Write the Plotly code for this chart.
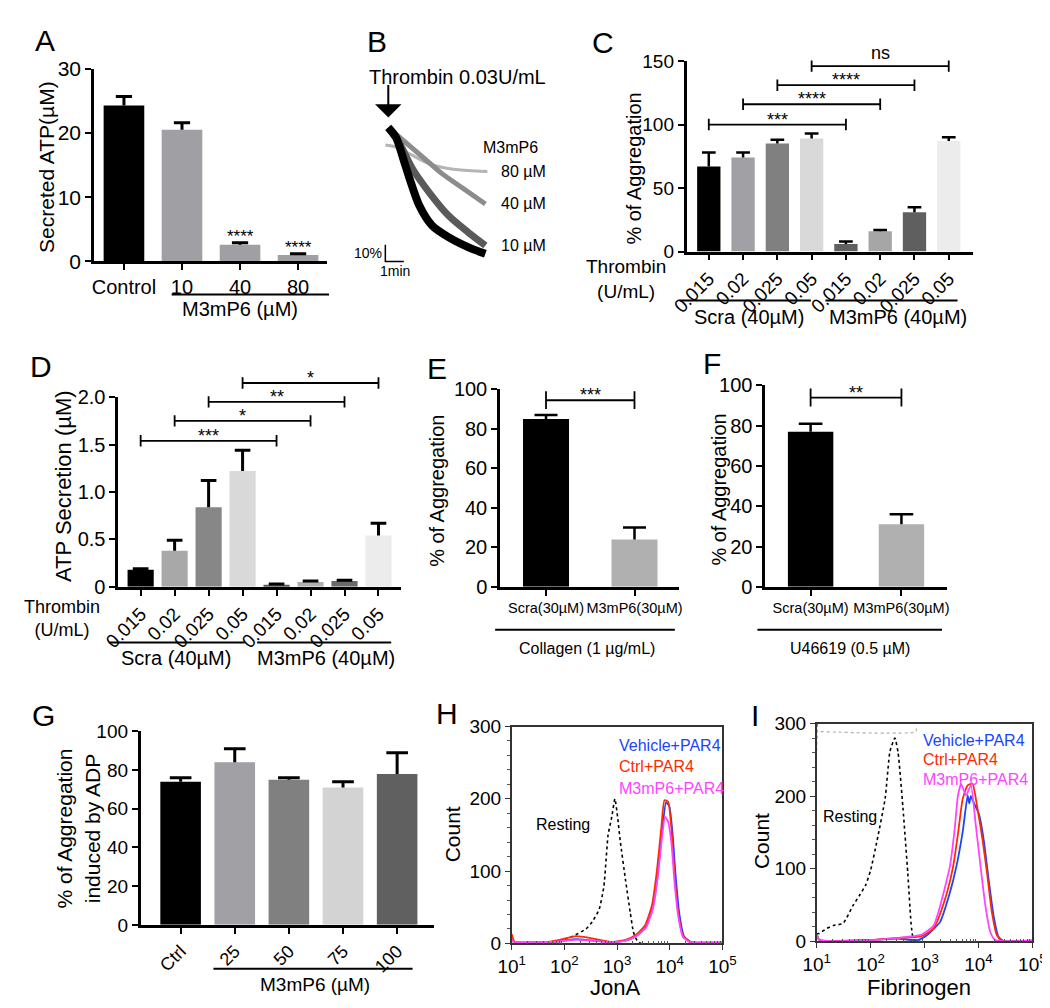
import plotly.graph_objects as go

W, H = 1050, 1008
FONT = "Liberation Sans, Arial, sans-serif"


def fx(px):
    return px / W


def fy(py):
    return 1 - py / H


# ---------------- DATA ----------------
# Panel A
A_labels = ["Control", "10", "40", "80"]
A_vals = [24.3, 20.5, 2.6, 1.0]
A_err = [1.4, 1.1, 0.3, 0.2]
A_sig = ["", "", "****", "****"]
A_colors = ["#000000", "#a0a0a4", "#a0a0a4", "#a0a0a4"]

# Panel B (aggregation traces: time in min, aggregation in %)
B_t_ctrl = [0.0, 0.42, 0.79, 1.16, 1.68, 2.37, 3.26, 4.32, 5.26]
B_ag_ctrl = [0, 6, 18, 31, 47, 59, 66, 72, 76]
B_t_10 = [0.0, 0.63, 1.32, 2.21, 3.26, 4.32, 5.26]
B_ag_10 = [0, 10, 25, 39, 53, 63, 71]
B_t_40 = [0.0, 0.79, 1.84, 2.89, 4.1, 5.26]
B_ag_40 = [0, 7.6, 17.6, 27.6, 37, 46]
B_t_80 = [-0.16, 0.42, 1.16, 2.21, 3.26, 4.32, 5.37]
B_ag_80 = [10.6, 11.8, 15.9, 21.8, 24.7, 25.9, 26.5]
B_labels = ["80 \u00b5M", "40 \u00b5M", "10 \u00b5M"]

# Panel C
C_ticks = ["0.015", "0.02", "0.025", "0.05", "0.015", "0.02", "0.025", "0.05"]
C_vals = [67, 74, 85, 89, 6, 16, 31, 87]
C_err = [11, 4, 3, 4, 2, 1, 4, 3]
C_colors = ["#000000", "#a0a0a5", "#808080", "#d9d9d9",
            "#606060", "#a6a6a6", "#5f5f5f", "#ececec"]
C_br = [(0, 4, 100, "***"), (1, 5, 116, "****"), (2, 6, 131, "****"), (3, 7, 146, "ns")]

# Panel D
D_ticks = ["0.015", "0.02", "0.025", "0.05", "0.015", "0.02", "0.025", "0.05"]
D_vals = [0.18, 0.38, 0.84, 1.22, 0.02, 0.05, 0.06, 0.54]
D_err = [0.01, 0.11, 0.28, 0.22, 0.01, 0.01, 0.01, 0.13]
D_colors = ["#000000", "#a8a8a8", "#878787", "#d9d9d9",
            "#5a5a5a", "#b0b0b0", "#6a6a6a", "#ececec"]
D_br = [(0, 4, 1.54, "***"), (1, 5, 1.75, "*"), (2, 6, 1.95, "**"), (3, 7, 2.15, "*")]

# Panel E
E_ticks = ["Scra(30\u00b5M)", "M3mP6(30\u00b5M)"]
E_vals = [85, 24]
E_err = [2, 6]
E_colors = ["#000000", "#b0b0b0"]
E_br = [(0, 1, 94.5, "***")]

# Panel F
F_ticks = ["Scra(30\u00b5M)", "M3mP6(30\u00b5M)"]
F_vals = [77, 31]
F_err = [4, 5]
F_colors = ["#000000", "#b0b0b0"]
F_br = [(0, 1, 94, "**")]

# Panel G
G_ticks = ["Ctrl", "25", "50", "75", "100"]
G_vals = [74, 84, 75, 71, 78]
G_err = [2, 7, 1, 3, 11]
G_colors = ["#000000", "#a0a0a5", "#808080", "#d3d3d3", "#606060"]

# Panel H (flow histograms, x as log10 intensity)
H_rest_lx = [1.0, 1.85, 1.95, 2.16, 2.41, 2.53, 2.66, 2.75, 2.83, 2.9, 2.96, 3.01, 3.06, 3.16, 3.25, 3.31, 3.38, 3.45, 5.0]
H_rest_ct = [0, 0, 4, 10, 20, 30, 47, 79, 150, 175, 200, 175, 142, 88, 43, 16, 4, 0, 0]
H_red_lx = [1.0, 1.06, 1.66, 1.91, 2.22, 2.53, 2.91, 3.16, 3.34, 3.53, 3.66, 3.75, 3.84, 3.9, 3.97, 4.03, 4.09, 4.16, 4.25, 4.38, 4.72, 5.0]
H_red_ct = [13, 2, 2, 5, 10, 7, 2, 5, 11, 25, 52, 97, 160, 198, 196, 160, 97, 43, 11, 2, 1, 1]
H_blue_lx = [1.0, 1.06, 1.66, 1.91, 2.22, 2.53, 2.91, 3.16, 3.36, 3.55, 3.68, 3.77, 3.86, 3.93, 3.99, 4.05, 4.11, 4.18, 4.27, 4.4, 4.72, 5.0]
H_blue_ct = [5, 2, 2, 3, 6, 4, 2, 4, 10, 23, 50, 95, 158, 195, 190, 155, 95, 42, 10, 2, 1, 1]
H_mag_lx = [1.0, 1.06, 1.66, 1.91, 2.22, 2.53, 2.91, 3.16, 3.36, 3.55, 3.68, 3.77, 3.85, 3.91, 3.97, 4.03, 4.09, 4.16, 4.25, 4.38, 4.72, 5.0]
H_mag_ct = [4, 2, 2, 3, 5, 4, 2, 4, 10, 22, 48, 90, 145, 175, 168, 140, 85, 38, 9, 2, 1, 1]

# Panel I
I_rest_lx = [1.0, 1.0, 1.04, 1.19, 1.31, 1.49, 1.67, 1.79, 1.91, 2.0, 2.12, 2.27, 2.36, 2.45, 2.51, 2.6, 2.69, 2.76, 2.81, 5.0]
I_rest_ct = [300, 11, 11, 18, 22, 25, 49, 63, 78, 98, 139, 197, 262, 280, 260, 184, 94, 18, 2, 0]
I_gate_lx = [1.07, 2.84, 2.84]
I_gate_ct = [289, 289, 298]
I_blue_lx = [1.0, 1.05, 2.0, 2.5, 2.87, 3.05, 3.29, 3.47, 3.59, 3.71, 3.8, 3.83, 3.86, 3.92, 4.01, 4.1, 4.19, 4.28, 4.37, 4.46, 5.0]
I_blue_ct = [10, 2, 2, 4, 2, 9, 27, 67, 103, 152, 201, 190, 200, 190, 175, 139, 85, 36, 7, 1, 1]
I_red_lx = [1.0, 1.05, 2.0, 2.5, 2.93, 3.17, 3.38, 3.53, 3.62, 3.71, 3.8, 3.89, 3.98, 4.07, 4.16, 4.25, 4.34, 4.43, 5.0]
I_red_ct = [10, 2, 2, 5, 7, 18, 58, 103, 148, 197, 215, 217, 184, 143, 94, 40, 9, 1, 1]
I_mag_lx = [1.0, 1.05, 2.0, 2.5, 2.93, 3.17, 3.29, 3.47, 3.56, 3.62, 3.68, 3.77, 3.86, 3.95, 4.04, 4.13, 4.22, 4.31, 5.0]
I_mag_ct = [10, 2, 2, 5, 9, 22, 49, 103, 155, 201, 217, 201, 215, 161, 103, 49, 13, 2, 1]

RED = "#ff2a00"
BLUE = "#1a44ff"
MAG = "#ff44ff"

# ---------------- FIGURE ----------------
fig = go.Figure()
annotations = []
shapes = []
layout = {}
PANEL_Y = {}  # k -> (top_px, bottom_px, range)


def ax_names(k):
    s = "" if k == 1 else str(k)
    return "x" + s, "y" + s, "xaxis" + s, "yaxis" + s


def add_bars(k, vals, errs, colors, width, capw, lw=2.5):
    xr, yr, _, _ = ax_names(k)
    xs = list(range(len(vals)))
    fig.add_trace(go.Bar(x=xs, y=vals, width=width, marker=dict(color=colors, line=dict(width=0)),
                         xaxis=xr, yaxis=yr, hoverinfo="skip"))
    ex, ey = [], []
    for i, (v, e) in enumerate(zip(vals, errs)):
        ex += [i, i, None, i - capw, i + capw, None]
        ey += [v, v + e, None, v + e, v + e, None]
    fig.add_trace(go.Scatter(x=ex, y=ey, mode="lines", line=dict(color="black", width=lw),
                             xaxis=xr, yaxis=yr, hoverinfo="skip"))


def add_brackets(k, ov, brs, cap, size=18):
    """Brackets drawn on an invisible overlay y-axis sharing the panel's scale but extending higher."""
    xr, yr, _, _ = ax_names(k)
    top, bot, rng = PANEL_Y[k]
    ext_top = max(top - 45, 1)
    ov_rng = [rng[0], rng[0] + (rng[1] - rng[0]) * (bot - ext_top) / (bot - top)]
    oyr = "y%d" % ov
    layout["yaxis%d" % ov] = dict(domain=[fy(bot), fy(ext_top)], range=ov_rng, anchor=xr,
                                  visible=False, fixedrange=True)
    bx, by = [], []
    for (i, j, h, lab) in brs:
        bx += [i, j, None, i, i, None, j, j, None]
        by += [h, h, None, h - cap, h + cap, None, h - cap, h + cap, None]
        annotations.append(dict(x=(i + j) / 2, y=h, xref=xr, yref=oyr, text=lab, showarrow=False,
                                yanchor="bottom", yshift=(-7 if "*" in lab else 1),
                                font=dict(family=FONT, size=size, color="black")))
    fig.add_trace(go.Scatter(x=bx, y=by, mode="lines", line=dict(color="black", width=1.8),
                             xaxis=xr, yaxis=oyr, hoverinfo="skip"))


def bar_axes(k, xpx, ypx, xrng, yrng, ticktext, yticks, yticktext=None, angle=0, xfs=20, yfs=20):
    xr, yr, xk, yk = ax_names(k)
    PANEL_Y[k] = (ypx[0], ypx[1], yrng)
    common = dict(showline=True, linecolor="black", linewidth=2.5, ticks="outside", tickwidth=2,
                  tickcolor="black", showgrid=False, zeroline=False, fixedrange=True)
    layout[xk] = dict(domain=[fx(xpx[0]), fx(xpx[1])], range=xrng, anchor=yr,
                      tickvals=list(range(len(ticktext))), ticktext=ticktext, tickangle=angle,
                      ticklen=6, tickfont=dict(family=FONT, size=xfs, color="black"), **common)
    layout[yk] = dict(domain=[fy(ypx[1]), fy(ypx[0])], range=yrng, anchor=xr,
                      tickvals=yticks, ticktext=yticktext if yticktext else [str(t) for t in yticks],
                      ticklen=6, tickfont=dict(family=FONT, size=yfs, color="black"), **common)


def text(px, py, s, size=20, color="black", angle=0, xanchor="center", yanchor="middle"):
    annotations.append(dict(x=fx(px), y=fy(py), xref="paper", yref="paper", text=s, showarrow=False,
                            textangle=angle, xanchor=xanchor, yanchor=yanchor,
                            font=dict(family=FONT, size=size, color=color)))


def hline(x0, x1, y, w=2):
    shapes.append(dict(type="line", xref="paper", yref="paper", x0=fx(x0), x1=fx(x1), y0=fy(y), y1=fy(y),
                       line=dict(color="black", width=w)))


# ---- Panel A ----
bar_axes(1, (72, 312), (50, 247), [-0.517, 3.5], [0, 30], A_labels, [0, 10, 20, 30], xfs=20, yfs=21)
add_bars(1, A_vals, A_err, A_colors, 0.7, 0.14, lw=3)
for i, (v, e, s) in enumerate(zip(A_vals, A_err, A_sig)):
    if s:
        annotations.append(dict(x=i, y=v + e, xref="x", yref="y", text=s, showarrow=False, yanchor="bottom",
                                yshift=-5, font=dict(family=FONT, size=17, color="black")))
text(23, 150, "Secreted ATP(\u00b5M)", size=21, angle=-90)
hline(152, 314, 281)
text(222, 296, "M3mP6 (\u00b5M)", size=20)

# ---- Panel B ----
for t, a, c, w in [(B_t_80, B_ag_80, "#b4b4b4", 3), (B_t_40, B_ag_40, "#8c8c8c", 5),
                   (B_t_10, B_ag_10, "#5a5a5a", 7), (B_t_ctrl, B_ag_ctrl, "#000000", 8)]:
    fig.add_trace(go.Scatter(x=t, y=a, mode="lines", line=dict(color=c, width=w, shape="spline", smoothing=0.8),
                             xaxis="x2", yaxis="y2", hoverinfo="skip"))
SCALE_MIN, SCALE_PCT = 1, 10
sb_t0, sb_a0 = -0.16, 80.6
fig.add_trace(go.Scatter(x=[sb_t0, sb_t0, sb_t0 + SCALE_MIN], y=[sb_a0 - SCALE_PCT, sb_a0, sb_a0],
                         mode="lines", line=dict(color="black", width=1.5), xaxis="x2", yaxis="y2", hoverinfo="skip"))
layout["xaxis2"] = dict(domain=[fx(340), fx(540)], range=[-1.842, 8.684], visible=False, anchor="y2", fixedrange=True)
layout["yaxis2"] = dict(domain=[fy(260), fy(60)], range=[88.2, -29.4], visible=False, anchor="x2", fixedrange=True)
annotations.append(dict(x=0, y=-6, xref="x2", yref="y2", ax=0, ay=-34, showarrow=True, arrowhead=1,
                        arrowsize=2.2, arrowwidth=2, arrowcolor="black", text=""))
text(353, 58, "Thrombin 0.03U/mL", size=20, xanchor="left")
annotations.append(dict(x=sb_t0, y=sb_a0 - SCALE_PCT / 2, xref="x2", yref="y2", text="10%", showarrow=False,
                        xanchor="right", xshift=-1, font=dict(family=FONT, size=14, color="black")))
annotations.append(dict(x=sb_t0 + SCALE_MIN / 2, y=sb_a0, xref="x2", yref="y2", text="1min", showarrow=False,
                        yanchor="top", font=dict(family=FONT, size=14, color="black")))
text(470, 130, "M3mP6", size=16, xanchor="left")
for lab, a in zip(B_labels, [B_ag_80[-1], B_ag_40[-1], B_ag_10[-1]]):
    annotations.append(dict(x=6.0, y=a, xref="x2", yref="y2", text=lab, showarrow=False, xanchor="left",
                            font=dict(family=FONT, size=16, color="black")))

# ---- Panel C ----
bar_axes(3, (682, 977), (42, 237), [-0.65, 7.71], [0, 150], C_ticks, [0, 50, 100, 150], angle=-45, xfs=19, yfs=19)
add_bars(3, C_vals, C_err, C_colors, 0.68, 0.2)
add_brackets(3, 10, C_br, 4.5)
text(627, 152, "% of Aggregation", size=20, angle=-90)
text(620, 265, "Thrombin<br>(U/mL)", size=19)
hline(675, 810, 287)
hline(825, 961, 287)
text(746, 304, "Scra (40\u00b5M)", size=20)
text(900, 304, "M3mP6 (40\u00b5M)", size=20)

# ---- Panel D ----
bar_axes(4, (97, 388), (386, 580), [-0.66, 7.66], [0, 2.0], D_ticks, [0, 0.5, 1.0, 1.5, 2.0],
         yticktext=["0", "0.5", "1.0", "1.5", "2.0"], angle=-45, xfs=19, yfs=20)
add_bars(4, D_vals, D_err, D_colors, 0.77, 0.23, lw=3)
add_brackets(4, 11, D_br, 0.06)
text(40, 477, "ATP Secretion (\u00b5M)", size=22, angle=-90)
text(39, 612, "Thrombin<br>(U/mL)", size=18)
hline(88, 227, 637)
hline(240, 378, 637)
text(156, 653, "Scra (40\u00b5M)", size=20)
text(311, 653, "M3mP6 (40\u00b5M)", size=20)

# ---- Panel E ----
bar_axes(5, (490, 674), (378, 580), [-0.52, 1.5], [0, 100], E_ticks, [0, 20, 40, 60, 80, 100], xfs=14.5, yfs=20)
add_bars(5, E_vals, E_err, E_colors, 0.52, 0.13)
add_brackets(5, 12, E_br, 4.5)
text(425, 482, "% of Aggregation", size=20, angle=-90)
hline(485, 670, 624)
text(580, 643, "Collagen (1 \u00b5g/mL)", size=16)

# ---- Panel F ----
bar_axes(6, (763, 950), (374, 580), [-0.5, 1.5], [0, 100], F_ticks, [0, 20, 40, 60, 80, 100], xfs=14.5, yfs=20)
add_bars(6, F_vals, F_err, F_colors, 0.5, 0.13)
add_brackets(6, 13, F_br, 4.5)
text(715, 481, "% of Aggregation", size=20, angle=-90)
hline(755, 945, 624)
text(850, 643, "U46619 (0.5 \u00b5M)", size=16)

# ---- Panel G ----
bar_axes(7, (120, 422), (728, 926), [-0.74, 4.68], [0, 100], G_ticks, [0, 20, 40, 60, 80, 100],
         angle=-45, xfs=18, yfs=19)
add_bars(7, G_vals, G_err, G_colors, 0.75, 0.2, lw=3)
text(56, 827, "% of Aggregation<br>induced by ADP", size=21, angle=-90)
hline(195, 400, 971)
text(300, 987, "M3mP6 (\u00b5M)", size=19)


# ---- Panels H & I ----
def flow_axes(k, xpx, ypx):
    xr, yr, xk, yk = ax_names(k)
    minor_vals = [m * 10 ** d for d in range(1, 5) for m in range(2, 10)]
    layout[xk] = dict(domain=[fx(xpx[0]), fx(xpx[1])], type="log", range=[1, 5], anchor=yr,
                      tickvals=[10, 100, 1000, 10000, 100000],
                      ticktext=["10<sup>1</sup>", "10<sup>2</sup>", "10<sup>3</sup>", "10<sup>4</sup>", "10<sup>5</sup>"],
                      showline=True, linecolor="#333333", linewidth=1.5, mirror=True,
                      ticks="outside", ticklen=5, tickwidth=1.2, tickcolor="#333333",
                      minor=dict(tickvals=minor_vals, ticks="inside", ticklen=3, tickcolor="#555555"),
                      showgrid=False, zeroline=False, fixedrange=True,
                      tickfont=dict(family=FONT, size=19, color="black"))
    layout[yk] = dict(domain=[fy(ypx[1]), fy(ypx[0])], range=[0, 300], anchor=xr,
                      tickvals=[0, 100, 200, 300], showline=True, linecolor="#333333", linewidth=1.5,
                      mirror=True, ticks="outside", ticklen=5, tickwidth=1.2, tickcolor="#333333",
                      minor=dict(dtick=20, ticks="outside", ticklen=3, tickcolor="#555555"),
                      showgrid=False, zeroline=False, fixedrange=True,
                      tickfont=dict(family=FONT, size=19, color="black"))


def flow_line(k, lx, ct, color, width=1.6, dash="solid"):
    xr, yr, _, _ = ax_names(k)
    fig.add_trace(go.Scatter(x=[10 ** v for v in lx], y=ct, mode="lines",
                             line=dict(color=color, width=width, dash=dash, shape="spline", smoothing=0.5),
                             xaxis=xr, yaxis=yr, hoverinfo="skip"))


flow_axes(8, (502, 719), (723, 945))
flow_line(8, H_rest_lx, H_rest_ct, "black", 1.6, "dot")
flow_line(8, H_blue_lx, H_blue_ct, BLUE, 1.8)
flow_line(8, H_red_lx, H_red_ct, RED, 1.8)
flow_line(8, H_mag_lx, H_mag_ct, MAG, 1.8)
text(442, 833, "Count", size=21, angle=-90)
text(608, 990, "JonA", size=22)
text(555, 823, "Resting", size=16)
text(610, 742, "Vehicle+PAR4", size=16, color=BLUE, xanchor="left")
text(610, 764, "Ctrl+PAR4", size=16, color=RED, xanchor="left")
text(610, 786, "M3mP6+PAR4", size=16, color=MAG, xanchor="left")

flow_axes(9, (816, 1038), (720, 943))
flow_line(9, I_gate_lx, I_gate_ct, "#b0b0b0", 1.2, "dot")
flow_line(9, I_rest_lx, I_rest_ct, "black", 1.6, "dot")
flow_line(9, I_blue_lx, I_blue_ct, BLUE, 1.8)
flow_line(9, I_red_lx, I_red_ct, RED, 1.8)
flow_line(9, I_mag_lx, I_mag_ct, MAG, 1.8)
text(760, 840, "Count", size=21, angle=-90)
text(921, 990, "Fibrinogen", size=22)
text(850, 815, "Resting", size=16)
text(923, 737, "Vehicle+PAR4", size=16, color=BLUE, xanchor="left")
text(923, 757, "Ctrl+PAR4", size=16, color=RED, xanchor="left")
text(923, 777, "M3mP6+PAR4", size=16, color=MAG, xanchor="left")

# ---- Panel letters ----
for lab, (px, py) in {"A": (22, 21), "B": (363, 22), "C": (596, 23), "D": (17, 355), "E": (425, 357),
                      "F": (708, 352), "G": (20, 712), "H": (435, 710), "I": (752, 712)}.items():
    text(px, py, lab, size=30)

fig.update_layout(width=W, height=H, margin=dict(l=0, r=0, t=0, b=0), showlegend=False,
                  plot_bgcolor="rgba(0,0,0,0)", paper_bgcolor="white", annotations=annotations, shapes=shapes,
                  font=dict(family=FONT, color="black"), **layout)
fig.write_html("out.html")
